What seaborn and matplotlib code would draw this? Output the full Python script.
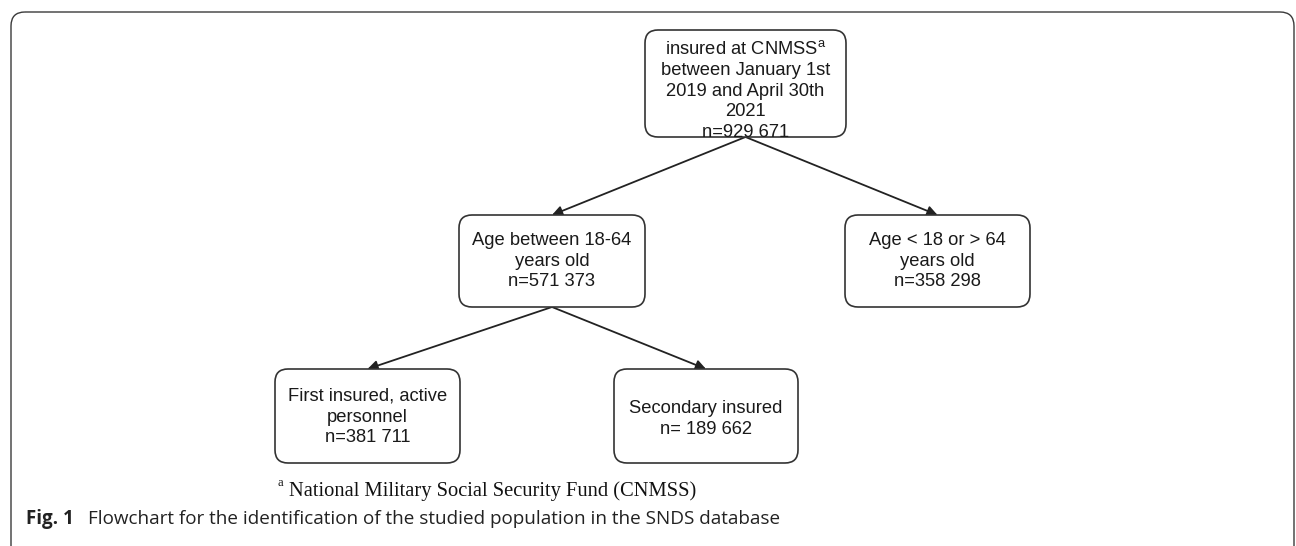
import matplotlib
matplotlib.use("Agg")
import matplotlib.pyplot as plt
import seaborn as sns
from matplotlib.patches import FancyBboxPatch

# --- data: flowchart nodes ---
node_labels = [
    "insured at CNMSS$^{\\mathrm{a}}$\nbetween January 1st\n2019 and April 30th\n2021",
    "Age between 18-64\nyears old",
    "Age < 18 or > 64\nyears old",
    "First insured, active\npersonnel",
    "Secondary insured",
]
node_counts = ["n=929 671", "n=571 373", "n=358 298", "n=381 711", "n= 189 662"]
edges = [(0, 1), (0, 2), (1, 3), (1, 4)]

footnote_mark = "a"
footnote_text = "National Military Social Security Fund (CNMSS)"
fig_label = "Fig. 1"
fig_caption = "Flowchart for the identification of the studied population in the SNDS database"

# --- layout (pixels, y down): left, top, width, height ---
boxes = [
    (645, 30, 201, 107),
    (459, 215, 186, 92),
    (845, 215, 185, 92),
    (275, 369, 185, 94),
    (614, 369, 184, 94),
]
text_dy = [7, 0, 0, 1, 3]

sns.set_theme(style="white")
plt.rcParams["font.family"] = ["Liberation Sans", "DejaVu Sans"]
plt.rcParams["mathtext.fontset"] = "custom"
plt.rcParams["mathtext.rm"] = "Liberation Sans"

W, H = 1296, 546
fig = plt.figure(figsize=(W / 100, H / 100), dpi=100)
ax = fig.add_axes([0, 0, 1, 1])
ax.set_xlim(0, W)
ax.set_ylim(H, 0)
ax.set_axis_off()

# outer frame (bottom edge runs off the page)
ax.add_patch(FancyBboxPatch((11, 12), 1283, 560,
                            boxstyle="round,pad=0,rounding_size=14",
                            fc="none", ec="#3a3a3a", lw=1.0, clip_on=True))

# nodes
for i, (x, y, w, h) in enumerate(boxes):
    ax.add_patch(FancyBboxPatch((x, y), w, h, boxstyle="round,pad=0,rounding_size=13",
                                fc="white", ec="#333333", lw=1.2, zorder=2))
    ax.text(x + w / 2, y + h / 2 + text_dy[i], node_labels[i] + "\n" + node_counts[i],
            ha="center", va="center", multialignment="center",
            fontsize=13.2, color="#1a1a1a", linespacing=1.29, zorder=3)

# arrows
for a, b in edges:
    xa, ya, wa, ha_ = boxes[a]
    xb, yb, wb, hb = boxes[b]
    ax.annotate("", xy=(xb + wb / 2, yb), xytext=(xa + wa / 2, ya + ha_),
                arrowprops=dict(arrowstyle="-|>", color="#222222", lw=1.3,
                                mutation_scale=15, shrinkA=0, shrinkB=0),
                zorder=1)

# footnote
ax.text(278, 483, footnote_mark, fontsize=9, family="Liberation Serif",
        ha="left", va="center", color="#111111")
ax.text(289, 491, footnote_text, fontsize=14.8, family="Liberation Serif",
        ha="left", va="center", color="#111111")

# caption
ax.text(26, 519, fig_label, fontsize=13.5, family="Open Sans", fontweight="bold",
        ha="left", va="center", color="#222222")
ax.text(88, 519, fig_caption, fontsize=13.6, family="Open Sans",
        ha="left", va="center", color="#222222")

fig.savefig("out.png", dpi=100)
